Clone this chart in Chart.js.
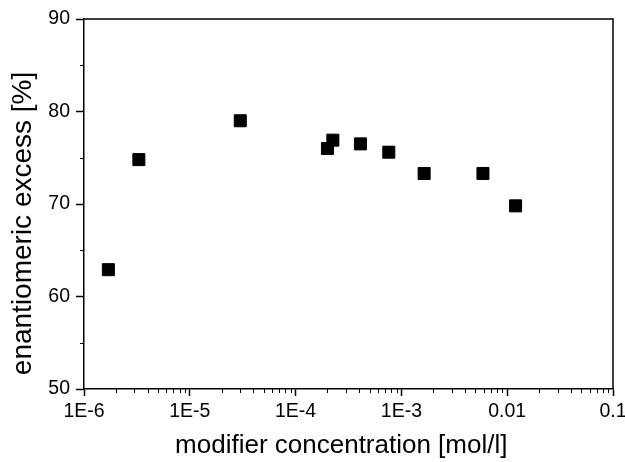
<!DOCTYPE html>
<html>
<head>
<meta charset="utf-8">
<script src="https://cdn.jsdelivr.net/npm/chart.js@4.4.1/dist/chart.umd.min.js"></script>
<style>
  html, body { margin: 0; padding: 0; background: #fff; }
  #wrap { width: 625px; height: 462px; }
</style>
</head>
<body>
<div id="wrap"><canvas id="chart"></canvas></div>
<script>
// values
const concentrations = [1.7e-6, 3.3e-6, 3.0e-5, 2.0e-4, 2.25e-4, 4.1e-4, 7.6e-4, 1.64e-3, 5.9e-3, 0.012];
const enantiomericExcess = [62.9, 74.8, 79.0, 76.0, 76.9, 76.5, 75.6, 73.3, 73.3, 69.8];

const xMajorTicks = [1e-6, 1e-5, 1e-4, 1e-3, 0.01, 0.1];
const xTickLabels = ['1E-6', '1E-5', '1E-4', '1E-3', '0.01', '0.1'];
const xMinorMultipliers = [2, 3, 4, 5, 6, 7, 8, 9];
const yMajorTicks = [50, 60, 70, 80, 90];
const yMinorTicks = [55, 65, 75, 85];

const FONT = 'Liberation Sans, Arial, Helvetica, sans-serif';

// frame on top/right plus the short minor ticks
const framePlugin = {
  id: 'frame',
  afterDraw(chart) {
    const { ctx, chartArea: a, scales } = chart;
    ctx.save();
    ctx.strokeStyle = '#000';
    ctx.lineWidth = 1.5;
    ctx.beginPath();
    ctx.moveTo(a.left, a.top);
    ctx.lineTo(a.right, a.top);
    ctx.lineTo(a.right, a.bottom);
    ctx.stroke();

    ctx.lineWidth = 1;
    ctx.beginPath();
    xMajorTicks.slice(0, -1).forEach(dec => {
      xMinorMultipliers.forEach(m => {
        const px = Math.round(scales.x.getPixelForValue(dec * m)) + 0.5;
        ctx.moveTo(px, a.bottom);
        ctx.lineTo(px, a.bottom + 4);
      });
    });
    yMinorTicks.forEach(v => {
      const py = Math.round(scales.y.getPixelForValue(v)) + 0.5;
      ctx.moveTo(a.left, py);
      ctx.lineTo(a.left - 4, py);
    });
    ctx.stroke();
    ctx.restore();
  }
};

new Chart(document.getElementById('chart'), {
  type: 'scatter',
  data: {
    datasets: [{
      data: concentrations.map((c, i) => ({ x: c, y: enantiomericExcess[i] })),
      pointStyle: 'rect',
      pointRadius: 8.5,
      pointHoverRadius: 8.5,
      backgroundColor: '#000',
      borderColor: '#000',
      borderWidth: 1,
    }],
  },
  options: {
    responsive: true,
    maintainAspectRatio: false,
    animation: false,
    events: [],
    layout: { padding: { top: 19, right: 12, left: 0, bottom: 0 } },
    plugins: { legend: { display: false }, tooltip: { enabled: false } },
    scales: {
      x: {
        type: 'logarithmic',
        min: 1e-6,
        max: 0.1,
        afterBuildTicks: scale => { scale.ticks = xMajorTicks.map(v => ({ value: v })); },
        afterFit: scale => {
          scale.height = 73;
          scale.paddingRight = 0;
          scale.paddingLeft = 0;
        },
        ticks: {
          autoSkip: false,
          maxRotation: 0,
          color: '#000',
          padding: 4,
          font: { family: FONT, size: 19.5 },
          callback: (v, i) => xTickLabels[i],
        },
        grid: { drawOnChartArea: false, tickLength: 7, tickColor: '#000', tickWidth: 1.5 },
        border: { color: '#000', width: 1.5 },
        title: {
          display: true,
          // trailing spaces nudge the centred title a little left, as in the original
          text: 'modifier concentration [mol/l]  ',
          color: '#000',
          font: { family: FONT, size: 26 },
          padding: { top: 0, bottom: 1 },
        },
      },
      y: {
        min: 50,
        max: 90,
        afterBuildTicks: scale => { scale.ticks = yMajorTicks.map(v => ({ value: v })); },
        afterFit: scale => {
          scale.width = 84;
          scale.paddingTop = 0;
          scale.paddingBottom = 0;
        },
        ticks: {
          color: '#000',
          padding: 6,
          font: { family: FONT, size: 19.5 },
        },
        grid: { drawOnChartArea: false, tickLength: 8, tickColor: '#000', tickWidth: 1.5 },
        border: { color: '#000', width: 1.5 },
        title: {
          display: true,
          // the original title sits below the axis centre
          text: 'enantiomeric excess [%]     ',
          color: '#000',
          font: { family: FONT, size: 28 },
          padding: { top: 6, bottom: 0 },
        },
      },
    },
  },
  plugins: [framePlugin],
});
</script>
</body>
</html>
